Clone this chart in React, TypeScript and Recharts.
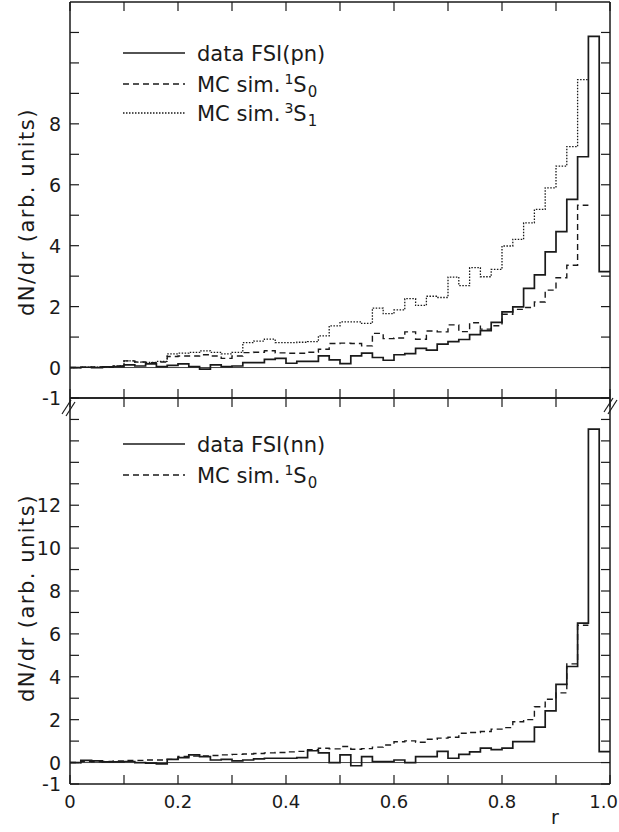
import React from 'react';
import { ComposedChart, Line, XAxis, YAxis, ReferenceLine } from 'recharts';

// bin edges in r (bins of 0.02)
const R_EDGES = [
  0.0, 0.02, 0.04, 0.06, 0.08, 0.1, 0.12, 0.14, 0.16, 0.18,
  0.2, 0.22, 0.24, 0.26, 0.28, 0.3, 0.32, 0.34, 0.36, 0.38,
  0.4, 0.42, 0.44, 0.46, 0.48, 0.5, 0.52, 0.54, 0.56, 0.58,
  0.6, 0.62, 0.64, 0.66, 0.68, 0.7, 0.72, 0.74, 0.76, 0.78,
  0.8, 0.82, 0.84, 0.86, 0.88, 0.9, 0.92, 0.94, 0.96, 0.98, 1.0
];

// upper panel: pn
const PN_DATA = [
  0.0, 0.01, 0.0, 0.02, 0.03, 0.09, 0.05, 0.12, 0.03, 0.07,
  0.12, 0.03, -0.05, 0.09, 0.03, 0.05, 0.16, 0.16, 0.27, 0.3,
  0.14, 0.2, 0.2, 0.38, 0.25, 0.13, 0.38, 0.47, 0.33, 0.24,
  0.42, 0.46, 0.63, 0.57, 0.77, 0.85, 0.92, 1.08, 1.21, 1.48,
  1.83, 1.99, 2.6, 3.04, 3.8, 4.46, 5.52, 6.92, 10.87, 3.15
];
const PN_MC_1S0 = [
  0.0, 0.01, 0.02, 0.01, 0.05, 0.22, 0.18, 0.16, 0.18, 0.36,
  0.38, 0.38, 0.42, 0.38, 0.3, 0.38, 0.49, 0.5, 0.55, 0.48,
  0.47, 0.47, 0.5, 0.6, 0.79, 0.8, 0.79, 0.71, 1.12, 0.95,
  0.97, 1.17, 0.93, 1.2, 1.17, 1.4, 1.18, 1.47, 1.26, 1.37,
  1.75, 1.91, 1.97, 2.15, 2.54, 2.95, 3.36, 5.33
];
const PN_MC_3S1 = [
  0.0, 0.01, 0.01, 0.02, 0.05, 0.22, 0.18, 0.17, 0.2, 0.45,
  0.47, 0.5, 0.55, 0.5, 0.45, 0.5, 0.82, 0.87, 0.93, 0.82,
  0.82, 0.83, 0.85, 1.04, 1.37, 1.5, 1.5, 1.45, 1.95, 1.77,
  1.89, 2.26, 2.04, 2.34, 2.3, 2.97, 2.69, 3.28, 2.98, 3.22,
  3.99, 4.21, 4.75, 5.19, 5.9, 6.61, 7.25, 9.45
];

// lower panel: nn
const NN_DATA = [
  0.0, 0.1, 0.08, 0.03, 0.03, 0.05, 0.0, -0.03, -0.06, 0.15,
  0.23, 0.36, 0.28, 0.12, 0.15, 0.08, 0.12, 0.17, 0.2, 0.2,
  0.2, 0.23, 0.55, 0.45, 0.0, 0.36, -0.15, 0.28, 0.05, 0.05,
  0.12, 0.0, 0.28, 0.28, 0.52, 0.2, 0.38, 0.5, 0.67, 0.6,
  0.67, 0.98, 0.98, 1.65, 2.41, 3.65, 4.48, 6.5, 15.55, 0.51
];
const NN_MC_1S0 = [
  0.0, 0.05, 0.04, 0.05, 0.08, 0.1, 0.1, 0.12, 0.12, 0.15,
  0.28, 0.3, 0.31, 0.33, 0.36, 0.38, 0.4, 0.42, 0.45, 0.47,
  0.5, 0.52, 0.6, 0.67, 0.64, 0.75, 0.62, 0.65, 0.72, 0.82,
  0.97, 1.01, 0.95, 1.09, 1.14, 1.18, 1.37, 1.4, 1.45, 1.56,
  1.63, 1.9, 2.0, 2.6, 2.95, 3.25, 4.6, 6.4
];

const X_TICKS = [0, 0.1, 0.2, 0.3, 0.4, 0.5, 0.6, 0.7, 0.8, 0.9, 1.0];
const X_LABELS = [
  { v: 0, text: '0' },
  { v: 0.2, text: '0.2' },
  { v: 0.4, text: '0.4' },
  { v: 0.6, text: '0.6' },
  { v: 0.8, text: '0.8' },
  { v: 1.0, text: '1.0' }
];
const PN_Y_TICKS = [-1, 0, 1, 2, 3, 4, 5, 6, 7, 8, 9, 10, 11];
const PN_Y_LABELS = [-1, 0, 2, 4, 6, 8];
const NN_Y_TICKS = [-1, 0, 1, 2, 3, 4, 5, 6, 7, 8, 9, 10, 11, 12, 13, 14, 15, 16];
const NN_Y_LABELS = [-1, 0, 2, 4, 6, 8, 10, 12];

const INK = '#1a1a1a';
const FONT = '"DejaVu Sans", sans-serif';
const TICK_LEN = 9;

const toSteps = (vals: number[]) => {
  const pts = vals.map((v, i) => ({ r: R_EDGES[i], v }));
  pts.push({ r: R_EDGES[vals.length], v: vals[vals.length - 1] });
  return pts;
};

const BottomTick = ({ x, y, payload, showLabels }: any) => {
  const lab = showLabels ? X_LABELS.find(l => Math.abs(l.v - payload.value) < 1e-6) : null;
  const last = lab && lab.v === 1;
  return (
    <g>
      <line x1={x} y1={y} x2={x} y2={y - TICK_LEN} stroke={INK} strokeWidth={1.2} />
      {lab && (
        <text
          x={last ? x + 8 : x}
          y={y + 24}
          textAnchor={last ? 'end' : 'middle'}
          fontSize={18}
          fontFamily={FONT}
          fill={INK}
        >
          {lab.text}
        </text>
      )}
    </g>
  );
};

const TopTick = ({ x, y }: any) => (
  <line x1={x} y1={y} x2={x} y2={y + TICK_LEN} stroke={INK} strokeWidth={1.2} />
);

const LeftTick = ({ x, y, payload, labels }: any) => {
  const show = labels.includes(payload.value);
  return (
    <g>
      <line x1={x} y1={y} x2={x + TICK_LEN} y2={y} stroke={INK} strokeWidth={1.2} />
      {show && (
        <text x={x - 9} y={y + 7} textAnchor="end" fontSize={19} fontFamily={FONT} fill={INK}>
          {payload.value}
        </text>
      )}
    </g>
  );
};

const RightTick = ({ x, y }: any) => (
  <line x1={x} y1={y} x2={x - TICK_LEN} y2={y} stroke={INK} strokeWidth={1.2} />
);

interface Series {
  values: number[];
  dash?: string;
  width: number;
}

interface PanelProps {
  top: number;
  height: number;
  topAxis: number;
  bottomAxis: number;
  yDomain: [number, number];
  yTicks: number[];
  yLabels: number[];
  xLabels: boolean;
  series: Series[];
}

function Panel({ top, height, topAxis, bottomAxis, yDomain, yTicks, yLabels, xLabels, series }: PanelProps) {
  const axisLine = { stroke: INK, strokeWidth: 1.5 };
  return (
    <div style={{ position: 'absolute', left: 0, top }}>
      <ComposedChart width={619} height={height} margin={{ top: 0, right: 0, bottom: 0, left: 0 }}>
        <XAxis
          xAxisId="b"
          dataKey="r"
          type="number"
          domain={[0, 1]}
          allowDataOverflow
          ticks={X_TICKS}
          interval={0}
          height={bottomAxis}
          tickSize={0}
          tickMargin={0}
          tickLine={false}
          axisLine={axisLine}
          tick={(p: any) => <BottomTick {...p} showLabels={xLabels} />}
        />
        <XAxis
          xAxisId="t"
          orientation="top"
          dataKey="r"
          type="number"
          domain={[0, 1]}
          allowDataOverflow
          ticks={X_TICKS}
          interval={0}
          height={topAxis}
          tickSize={0}
          tickMargin={0}
          tickLine={false}
          axisLine={axisLine}
          tick={(p: any) => <TopTick {...p} />}
        />
        <YAxis
          yAxisId="l"
          type="number"
          domain={yDomain}
          allowDataOverflow
          ticks={yTicks}
          interval={0}
          width={70}
          tickSize={0}
          tickMargin={0}
          tickLine={false}
          axisLine={axisLine}
          tick={(p: any) => <LeftTick {...p} labels={yLabels} />}
        />
        <YAxis
          yAxisId="r"
          orientation="right"
          type="number"
          domain={yDomain}
          allowDataOverflow
          ticks={yTicks}
          interval={0}
          width={9}
          tickSize={0}
          tickMargin={0}
          tickLine={false}
          axisLine={axisLine}
          tick={(p: any) => <RightTick {...p} />}
        />
        <ReferenceLine xAxisId="b" yAxisId="l" y={0} stroke="#444" strokeWidth={1} />
        {series.map((s, i) => (
          <Line
            key={i}
            xAxisId="b"
            yAxisId="l"
            data={toSteps(s.values)}
            dataKey="v"
            type="stepAfter"
            stroke={INK}
            strokeWidth={s.width}
            strokeDasharray={s.dash}
            dot={false}
            activeDot={false}
            isAnimationActive={false}
          />
        ))}
      </ComposedChart>
    </div>
  );
}

const LegendRow = ({ y, dash, children }: any) => (
  <g>
    <line x1={123} y1={y} x2={185} y2={y} stroke={INK} strokeWidth={dash === '1.5 1.5' ? 1.3 : 1.6} strokeDasharray={dash} />
    <text x={197} y={y + 8} fontSize={21} fontFamily={FONT} fill={INK}>
      {children}
    </text>
  </g>
);

const State = ({ sup, sub }: { sup: string; sub: string }) => (
  <>
    <tspan dx={4} dy={-8} fontSize={14}>{sup}</tspan>
    <tspan dy={8}>S</tspan>
    <tspan dx={1} dy={5} fontSize={15}>{sub}</tspan>
  </>
);

export default function App() {
  return (
    <div style={{ position: 'absolute', left: 0, top: 0, width: 619, height: 832, background: '#fff', overflow: 'hidden' }}>
      <Panel
        top={0}
        height={420}
        topAxis={2}
        bottomAxis={22}
        yDomain={[-1, 12]}
        yTicks={PN_Y_TICKS}
        yLabels={PN_Y_LABELS}
        xLabels={false}
        series={[
          { values: PN_MC_3S1, dash: '1.5 1.5', width: 1.3 },
          { values: PN_MC_1S0, dash: '6 4', width: 1.4 },
          { values: PN_DATA, width: 1.7 }
        ]}
      />
      <Panel
        top={397}
        height={435}
        topAxis={1}
        bottomAxis={48}
        yDomain={[-1, 17]}
        yTicks={NN_Y_TICKS}
        yLabels={NN_Y_LABELS}
        xLabels={true}
        series={[
          { values: NN_MC_1S0, dash: '6 4', width: 1.4 },
          { values: NN_DATA, width: 1.7 }
        ]}
      />
      <svg width={619} height={832} style={{ position: 'absolute', left: 0, top: 0, pointerEvents: 'none' }}>
        {/* axis titles */}
        <text
          transform="translate(34,212) rotate(-90)"
          textAnchor="middle"
          fontSize={21}
          letterSpacing={1.5}
          fontFamily={FONT}
          fill={INK}
        >
          dN/dr (arb. units)
        </text>
        <text
          transform="translate(34,598) rotate(-90)"
          textAnchor="middle"
          fontSize={21}
          letterSpacing={1.5}
          fontFamily={FONT}
          fill={INK}
        >
          dN/dr (arb. units)
        </text>
        <text x={555} y={824} textAnchor="middle" fontSize={19} fontFamily={FONT} fill={INK}>r</text>

        {/* legends */}
        <LegendRow y={53}>data  FSI(pn)</LegendRow>
        <LegendRow y={84} dash="6 4">
          MC sim.<State sup="1" sub="0" />
        </LegendRow>
        <LegendRow y={113} dash="1.5 1.5">
          MC sim.<State sup="3" sub="1" />
        </LegendRow>
        <LegendRow y={444}>data  FSI(nn)</LegendRow>
        <LegendRow y={475} dash="6 4">
          MC sim.<State sup="1" sub="0" />
        </LegendRow>

        {/* axis break marks */}
        <line x1={62} y1={414} x2={71} y2={400} stroke={INK} strokeWidth={1.2} />
        <line x1={66} y1={416} x2={75} y2={402} stroke={INK} strokeWidth={1.2} />
        <line x1={604} y1={412} x2={613} y2={398} stroke={INK} strokeWidth={1.2} />
        <line x1={608} y1={414} x2={617} y2={400} stroke={INK} strokeWidth={1.2} />
      </svg>
    </div>
  );
}
